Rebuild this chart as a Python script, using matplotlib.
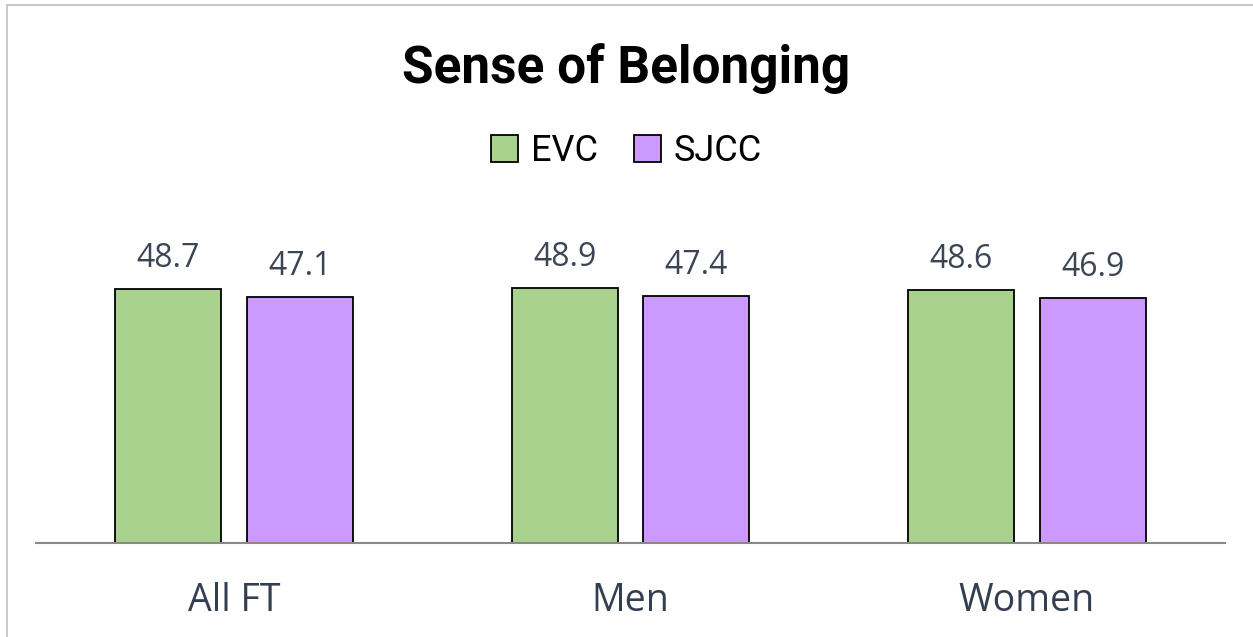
import matplotlib.pyplot as plt
from matplotlib.patches import Rectangle, Patch
import numpy as np

categories = ["All FT", "Men", "Women"]
evc = [48.7, 48.9, 48.6]
sjcc = [47.1, 47.4, 46.9]
series_names = ["EVC", "SJCC"]

green = "#a9d18e"
purple = "#cc99ff"
label_color = "#3b4556"
cat_color = "#333f50"

W, H = 1253, 637
fig = plt.figure(figsize=(W / 100, H / 100), dpi=100)

# plot area: baseline at y=543 px, x from 36 to 1225 px
ax_left, ax_right = 36, 1225
ax_bottom = 543
ymax = 60
px_per_unit = 254 / 48.7
ax_top = ax_bottom - ymax * px_per_unit
ax = fig.add_axes([ax_left / W, 1 - ax_bottom / H,
                   (ax_right - ax_left) / W, (ax_bottom - ax_top) / H])

x = np.arange(len(categories))
bw = 0.267
gap = 0.0325
b1 = ax.bar(x - bw / 2 - gap, evc, bw, color=green, edgecolor="black", linewidth=1.3)
b2 = ax.bar(x + bw / 2 + gap, sjcc, bw, color=purple, edgecolor="black", linewidth=1.3)

for bars, vals in [(b1, evc), (b2, sjcc)]:
    for r, v in zip(bars, vals):
        ax.text(r.get_x() + r.get_width() / 2, v + 22 / px_per_unit, f"{v:.1f}",
                ha="center", va="baseline", fontsize=23, color=label_color,
                family="Open Sans")

ax.set_xlim(-0.5, 2.5)
ax.set_ylim(0, ymax)
ax.set_yticks([])
ax.set_xticks(x)
ax.set_xticklabels(categories, fontsize=27, color=cat_color, family="Open Sans")
ax.tick_params(axis="x", length=0, pad=28)
for s in ["top", "right", "left"]:
    ax.spines[s].set_visible(False)
ax.spines["bottom"].set_color("#898989")
ax.spines["bottom"].set_linewidth(1.5)

fig.text(0.5, 1 - 83 / H, "Sense of Belonging", ha="center", va="baseline",
         fontsize=37, fontweight="bold", family="Roboto")

handles = [Patch(facecolor=green, edgecolor="black", linewidth=1.3),
           Patch(facecolor=purple, edgecolor="black", linewidth=1.3)]
fig.legend(handles, series_names, loc="center", bbox_to_anchor=(0.5, 1 - 151 / H),
           ncol=2, frameon=False, handlelength=0.75, handleheight=0.75,
           handletextpad=0.35, columnspacing=1.0,
           prop={"family": "Roboto", "size": 26})

fig.patches.append(Rectangle((7 / W, -0.01), 1.02, 1 - 5 / H + 0.01, transform=fig.transFigure,
                             fill=False, edgecolor="#bfbfbf", linewidth=1.2))

fig.savefig("out.png", dpi=100)
